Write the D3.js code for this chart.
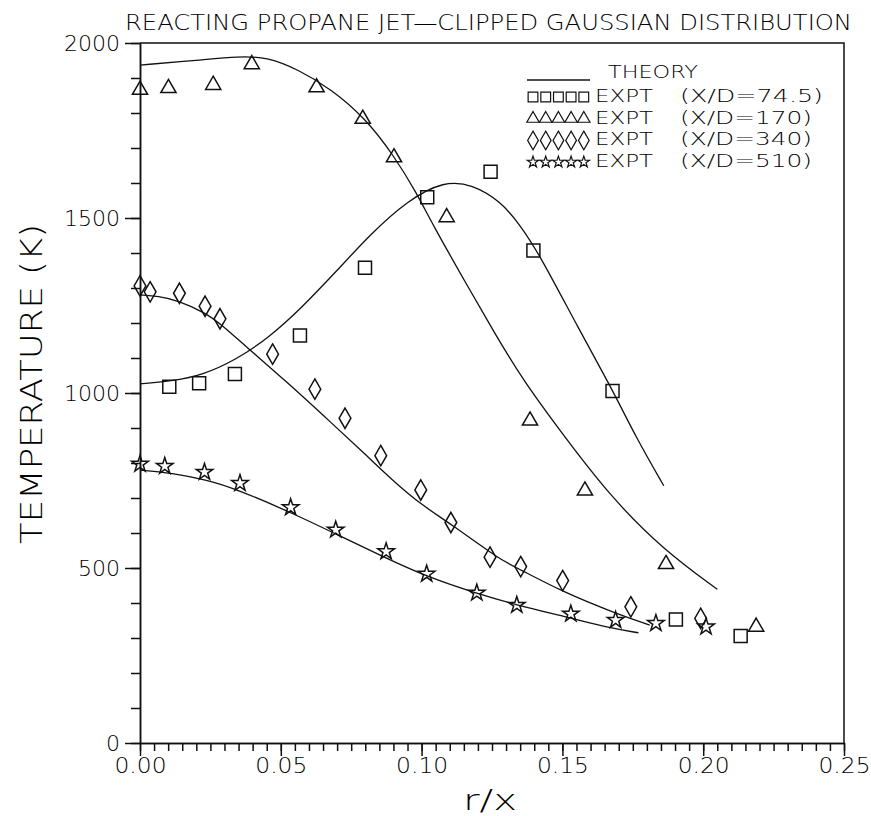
<!DOCTYPE html>
<html>
<head>
<meta charset="utf-8">
<script src="https://cdn.jsdelivr.net/npm/d3@7"></script>
<style>
  body { margin: 0; background: #fff; }
  text { font-family: "DejaVu Sans", "Liberation Sans", sans-serif; fill: #000; font-weight: 300; }
  .axis path, .axis line { stroke: #111; stroke-width: 1.5; }
</style>
</head>
<body>
<svg width="871" height="816"></svg>
<script>
// tick labels
let xTicks = [0, 0.05, 0.10, 0.15, 0.20, 0.25];
let yTicks = [0, 500, 1000, 1500, 2000];

// theory curves, [r/x, T]
let theory745 = [[0, 1026], [0.012, 1035], [0.022, 1051], [0.034, 1094], [0.046, 1160], [0.057, 1240],
    [0.070, 1350], [0.082, 1455], [0.095, 1550], [0.108, 1606], [0.118, 1596], [0.128, 1548],
    [0.135, 1480], [0.142, 1394], [0.156, 1180], [0.168, 1006], [0.176, 875], [0.186, 735]];
let theory170 = [[0, 1937], [0.021, 1951], [0.035, 1962], [0.045, 1960], [0.056, 1925], [0.068, 1868],
    [0.080, 1785], [0.090, 1680], [0.098, 1575], [0.104, 1480], [0.116, 1310], [0.126, 1170],
    [0.136, 1037], [0.149, 894], [0.167, 704], [0.186, 551], [0.205, 439]];
let theory340 = [[0, 1280], [0.0065, 1277], [0.0136, 1264], [0.0231, 1230], [0.029, 1195], [0.038, 1130],
    [0.051, 1040], [0.0686, 910], [0.080, 825], [0.090, 748], [0.100, 680], [0.110, 628], [0.128, 523],
    [0.134, 500], [0.150, 432], [0.169, 370], [0.181, 337]];
let theory510 = [[0, 780], [0.012, 771], [0.024, 751], [0.0334, 728], [0.0533, 660], [0.0698, 596],
    [0.0864, 532], [0.1018, 475], [0.1196, 427], [0.1338, 394], [0.1527, 358], [0.1669, 328], [0.177, 315]];

// experiments, [r/x, T]
let expt745 = [[0.0104, 1018], [0.021, 1028], [0.0337, 1054], [0.0568, 1164], [0.0799, 1358], [0.102, 1559],
    [0.1245, 1632], [0.1397, 1407], [0.1678, 1006], [0.1903, 353], [0.2133, 306]];
let expt170 = [[0, 1866], [0.0101, 1871], [0.026, 1880], [0.0397, 1939], [0.0627, 1873], [0.0791, 1783],
    [0.0902, 1673], [0.1089, 1502], [0.1385, 921], [0.158, 721], [0.1868, 511], [0.2188, 332]];
let expt340 = [[0, 1306], [0.0036, 1289], [0.014, 1285], [0.0231, 1248], [0.0284, 1212], [0.0471, 1111],
    [0.0621, 1011], [0.0728, 928], [0.0855, 821], [0.0997, 723], [0.1104, 630], [0.1243, 531],
    [0.1352, 504], [0.1501, 464], [0.1743, 389], [0.1991, 356]];
let expt510 = [[0, 797], [0.0088, 791], [0.0229, 774], [0.0355, 742], [0.0535, 673], [0.0695, 609],
    [0.0874, 547], [0.1018, 483], [0.1196, 429], [0.1338, 394], [0.153, 369], [0.1689, 351],
    [0.1832, 342], [0.201, 332]];

let legendLabels = ["THEORY", "(X/D=74.5)", "(X/D=170)", "(X/D=340)", "(X/D=510)"];

let svg = d3.select("svg");

let x = d3.scaleLinear().domain([0, 0.25]).range([140, 844]),
    y = d3.scaleLinear().domain([0, 2000]).range([743, 43]);

// minor ticks
svg.append("g").attr("class", "axis")
    .attr("transform", "translate(0," + y(0) + ")")
    .call(d3.axisBottom(x).tickValues(d3.range(0, 0.2501, 0.005)).tickSize(8).tickSizeOuter(0).tickFormat(""));
svg.append("g").attr("class", "axis")
    .attr("transform", "translate(" + x(0) + ",0)")
    .call(d3.axisLeft(y).tickValues(d3.range(0, 2001, 100)).tickSize(9).tickSizeOuter(0).tickFormat(""));

// major ticks + labels
let xAxis = svg.append("g").attr("class", "axis")
    .attr("transform", "translate(0," + y(0) + ")")
    .call(d3.axisBottom(x).tickValues(xTicks).tickSize(13).tickSizeOuter(0).tickPadding(1).tickFormat(d3.format(".2f")));
let yAxis = svg.append("g").attr("class", "axis")
    .attr("transform", "translate(" + x(0) + ",0)")
    .call(d3.axisLeft(y).tickValues(yTicks).tickSize(15).tickSizeOuter(0).tickPadding(5).tickFormat(d3.format("d")));
svg.selectAll(".axis text").attr("font-size", 22).attr("font-family", null).attr("fill", null);
xAxis.selectAll("text").attr("textLength", 52).attr("lengthAdjust", "spacingAndGlyphs");

// top and right frame
svg.append("path")
    .attr("d", "M" + x(0) + "," + y(2000) + "H" + x(0.25) + "V" + y(0))
    .attr("fill", "none").attr("stroke", "#111").attr("stroke-width", 1.5);

// theory lines
let line = d3.line()
    .curve(d3.curveBasis)
    .x(d => x(d[0]))
    .y(d => y(d[1]));
[theory745, theory170, theory340, theory510].forEach(function (s) {
    svg.append("path").datum(s)
        .attr("d", line)
        .attr("fill", "none").attr("stroke", "#111").attr("stroke-width", 1.3);
});

// experiment markers
let series = [
    {data: expt745, type: d3.symbolSquare, size: 169, legSize: 95},
    {data: expt170, type: d3.symbolTriangle, size: 100, legSize: 66},
    {data: expt340, type: d3.symbolDiamond, size: 120, legSize: 100},
    {data: expt510, type: d3.symbolStar, size: 85, legSize: 40}
];
series.forEach(function (s) {
    svg.append("g").selectAll("path")
        .data(s.data)
        .enter().append("path")
        .attr("transform", d => "translate(" + x(d[0]) + "," + y(d[1]) + ")")
        .attr("d", d3.symbol().type(s.type).size(s.size))
        .attr("fill", "none").attr("stroke", "#111").attr("stroke-width", 1.5);
});

// legend
let legend = svg.append("g");
legend.append("line")
    .attr("x1", 527).attr("x2", 590).attr("y1", 80).attr("y2", 80)
    .attr("stroke", "#111").attr("stroke-width", 1.3);
legend.append("text")
    .attr("x", 608).attr("y", 78).attr("font-size", 18.5)
    .attr("textLength", 90).attr("lengthAdjust", "spacingAndGlyphs")
    .text(legendLabels[0]);
series.forEach(function (s, i) {
    let cy = 97 + i * 21.7;
    let base = 102 + i * 21.6;
    legend.append("g").selectAll("path")
        .data(d3.range(5))
        .enter().append("path")
        .attr("transform", k => "translate(" + (533 + k * 12.7) + "," + cy + ")")
        .attr("d", d3.symbol().type(s.type).size(s.legSize))
        .attr("fill", "none").attr("stroke", "#111").attr("stroke-width", 1.2);
    legend.append("text")
        .attr("x", 595).attr("y", base).attr("font-size", 18.5)
        .attr("textLength", 58).attr("lengthAdjust", "spacingAndGlyphs")
        .text("EXPT");
    legend.append("text")
        .attr("x", 680).attr("y", base).attr("font-size", 18.5)
        .attr("textLength", i === 0 ? 143 : 132).attr("lengthAdjust", "spacingAndGlyphs")
        .text(legendLabels[i + 1]);
});

// titles
svg.append("text")
    .attr("x", 125).attr("y", 30).attr("font-size", 21)
    .attr("textLength", 727).attr("lengthAdjust", "spacingAndGlyphs")
    .text("REACTING PROPANE JET\u2014CLIPPED GAUSSIAN DISTRIBUTION");
svg.append("text")
    .attr("transform", "translate(42,384) rotate(-90)")
    .attr("text-anchor", "middle").attr("font-size", 31)
    .attr("textLength", 320).attr("lengthAdjust", "spacingAndGlyphs")
    .text("TEMPERATURE (K)");
svg.append("text")
    .attr("x", 463).attr("y", 810).attr("font-size", 28)
    .attr("textLength", 54).attr("lengthAdjust", "spacingAndGlyphs")
    .text("r/x");
</script>
</body>
</html>
